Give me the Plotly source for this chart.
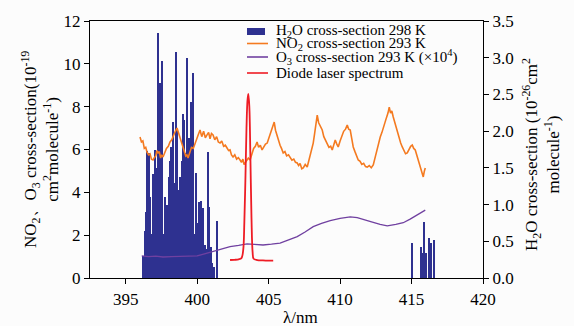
import plotly.graph_objects as go

# ---------------- data ----------------
h2o_wl = [396.33, 396.51, 396.63, 396.89, 397.03, 397.12, 397.26, 397.40, 397.54, 397.70,
          397.87, 398.05, 398.19, 398.29, 398.50, 398.61, 398.80, 398.99, 399.10, 399.29,
          399.45, 399.57, 399.73, 399.89, 399.99, 400.15, 400.27, 400.39, 400.52, 400.57,
          400.76, 400.85, 400.97, 401.41,
          396.20, 396.42, 396.58, 396.72, 396.80, 396.96, 397.19, 397.33, 397.47, 397.62,
          397.78, 397.95, 398.12, 398.36, 398.43, 398.56, 398.68, 398.73, 398.87, 398.93,
          399.05, 399.17, 399.23, 399.36, 399.51, 399.65, 399.80, 400.07, 400.21, 400.33,
          400.45, 400.66, 400.92, 401.05, 401.20,
          415.03, 415.66, 415.77, 415.91, 416.03, 416.20, 416.38, 416.59]
h2o_val = [0.64, 1.73, 1.70, 1.42, 1.74, 0.99, 3.34, 2.66, 2.96, 0.34,
           0.99, 1.38, 1.78, 2.13, 3.08, 1.91, 1.38, 2.24, 2.15, 2.99,
           1.91, 2.40, 2.79, 1.43, 0.75, 1.03, 1.05, 0.95, 0.45, 0.34,
           1.71, 0.97, 0.42, 0.78,
           0.30, 0.90, 0.50, 1.10, 0.60, 1.20, 1.50, 2.20, 1.80, 0.60,
           1.10, 0.80, 1.60, 1.00, 1.30, 2.00, 0.90, 1.20, 0.70, 1.60,
           1.90, 1.20, 1.70, 0.90, 1.50, 1.00, 0.60, 0.50, 0.70, 0.60,
           0.30, 0.40, 0.30, 0.20, 0.15,
           0.47, 0.42, 0.34, 0.76, 0.34, 0.54, 0.48, 0.52]

no2_curve = [
    (396.00, 6.58), (396.10, 6.35), (396.20, 6.40), (396.30, 6.05), (396.40, 6.10),
    (396.49, 5.88), (396.60, 5.75), (396.70, 5.80), (396.80, 5.55), (396.91, 5.51),
    (397.00, 5.62), (397.10, 5.70), (397.18, 5.95), (397.26, 5.84), (397.35, 5.90),
    (397.44, 5.60), (397.52, 5.75), (397.61, 5.65), (397.73, 5.85), (397.85, 6.05),
    (397.98, 6.15), (398.10, 6.35), (398.22, 6.45), (398.35, 6.70), (398.47, 6.85),
    (398.59, 7.00), (398.70, 6.75), (398.80, 6.55), (398.90, 6.40), (399.01, 6.12),
    (399.10, 5.95), (399.20, 5.70), (399.28, 5.75), (399.36, 5.60), (399.48, 5.85),
    (399.60, 6.10), (399.73, 6.05), (399.85, 6.30), (399.96, 6.55), (400.08, 6.70),
    (400.20, 6.91), (400.32, 6.60), (400.45, 6.85), (400.57, 6.55), (400.69, 6.68),
    (400.80, 6.80), (400.90, 6.50), (401.00, 6.75), (401.11, 6.68), (401.23, 6.45),
    (401.36, 6.60), (401.48, 6.35), (401.60, 6.30), (401.72, 6.40), (401.85, 6.15),
    (401.97, 6.20), (402.09, 6.07), (402.20, 5.95), (402.30, 5.98), (402.40, 5.75),
    (402.51, 5.65), (402.63, 5.75), (402.76, 5.55), (402.88, 5.62), (403.00, 5.51),
    (403.10, 5.40), (403.20, 5.55), (403.28, 5.30), (403.35, 5.37), (403.45, 5.45),
    (403.58, 5.60), (403.70, 5.51), (403.82, 5.80), (403.95, 6.05), (404.07, 6.15),
    (404.19, 6.35), (404.30, 6.10), (404.42, 6.20), (404.54, 5.98), (404.66, 6.10),
    (404.78, 6.25), (404.90, 6.30), (405.02, 6.55), (405.15, 6.80), (405.27, 7.00),
    (405.39, 7.28), (405.48, 6.90), (405.58, 6.65), (405.67, 6.44), (405.80, 6.20),
    (405.90, 6.05), (406.02, 5.84), (406.14, 5.90), (406.26, 5.70), (406.39, 5.75),
    (406.51, 5.65), (406.63, 5.50), (406.76, 5.55), (406.88, 5.40), (407.00, 5.37),
    (407.10, 5.25), (407.20, 5.35), (407.32, 5.10), (407.42, 5.14), (407.56, 5.30),
    (407.70, 5.18), (407.84, 5.55), (407.98, 5.90), (408.12, 6.30), (408.22, 6.75),
    (408.32, 7.20), (408.40, 7.61), (408.50, 7.25), (408.62, 7.05), (408.75, 6.91),
    (408.86, 6.60), (408.98, 6.45), (409.10, 6.30), (409.22, 6.10), (409.34, 6.15),
    (409.45, 5.98), (409.55, 6.20), (409.66, 6.44), (409.77, 6.25), (409.87, 6.12),
    (410.00, 6.40), (410.12, 6.65), (410.25, 6.85), (410.38, 6.95), (410.50, 7.14),
    (410.60, 6.95), (410.71, 6.91), (410.82, 6.50), (410.92, 6.12), (411.04, 5.90),
    (411.15, 5.70), (411.27, 5.51), (411.40, 5.45), (411.52, 5.30), (411.65, 5.35),
    (411.78, 5.20), (411.90, 5.18), (412.04, 5.25), (412.18, 5.15), (412.32, 5.28),
    (412.44, 5.60), (412.56, 5.95), (412.69, 6.30), (412.81, 6.58), (412.93, 6.80),
    (413.05, 7.10), (413.16, 7.38), (413.25, 7.50), (413.35, 7.70), (413.44, 7.98),
    (413.53, 7.70), (413.62, 7.80), (413.72, 7.52), (413.81, 7.30), (413.90, 7.05),
    (414.00, 6.91), (414.12, 6.55), (414.24, 6.30), (414.35, 6.12), (414.47, 5.95),
    (414.58, 5.80), (414.70, 5.84), (414.82, 6.00), (414.94, 6.15), (415.05, 6.21),
    (415.15, 6.05), (415.26, 5.98), (415.38, 5.70), (415.50, 5.40), (415.61, 5.18),
    (415.72, 4.90), (415.82, 4.72), (415.90, 5.00), (415.96, 5.14),
]
no2_wl = [p[0] for p in no2_curve]
no2_val = [p[1] for p in no2_curve]

o3_wl = [396.12, 396.60, 397.10, 397.61, 398.20, 398.80, 399.40, 400.00, 400.45, 400.90,
         401.60, 402.30, 402.90, 403.49, 404.00, 404.61, 405.20, 405.80, 406.40, 407.00,
         407.55, 408.12, 408.70, 409.31, 410.00, 410.71, 411.20, 411.62, 412.20, 412.80,
         413.30, 413.90, 414.42, 414.90, 415.40, 415.96]
o3_val = [1.03, 1.00, 1.02, 0.98, 1.00, 1.00, 1.01, 1.03, 1.12, 1.21,
          1.33, 1.46, 1.52, 1.59, 1.57, 1.54, 1.58, 1.63, 1.78, 1.93,
          2.15, 2.40, 2.55, 2.68, 2.78, 2.85, 2.82, 2.75, 2.62, 2.50,
          2.43, 2.50, 2.58, 2.75, 2.94, 3.17]

laser_wl = [402.30, 402.60, 402.90, 403.10, 403.22, 403.30, 403.38, 403.45, 403.52, 403.58,
            403.65, 403.72, 403.80, 403.88, 403.95, 404.20, 404.60, 405.00, 405.32]
laser_val = [0.84, 0.85, 0.87, 0.93, 1.30, 2.60, 4.80, 7.00, 8.30, 8.60,
             8.00, 5.80, 2.80, 1.20, 0.90, 0.84, 0.82, 0.81, 0.81]

x_ticks = [395, 400, 405, 410, 415, 420]

# ---------------- styles ----------------
BLUE = "#2e3190"
ORANGE = "#f47a20"
PURPLE = "#7040a0"
RED = "#ee1c25"
FONT = "Liberation Serif"
BG = "#fcfcfc"

L, R, T, B = 90, 91, 21, 48
W, H = 574, 326
PW, PH = W - L - R, H - T - B


def px(xp):
    return (xp - L) / PW


def py(yp):
    return (H - B - yp) / PH


fig = go.Figure()
fig.add_trace(go.Bar(x=h2o_wl, y=h2o_val, width=0.085, marker_color=BLUE,
                     marker_line_width=0, yaxis="y", showlegend=False))
fig.add_trace(go.Scatter(x=no2_wl, y=no2_val, mode="lines", yaxis="y2",
                         line=dict(color=ORANGE, width=1.6), showlegend=False))
fig.add_trace(go.Scatter(x=o3_wl, y=o3_val, mode="lines", yaxis="y2",
                         line=dict(color=PURPLE, width=1.3), showlegend=False))
fig.add_trace(go.Scatter(x=laser_wl, y=laser_val, mode="lines", yaxis="y2",
                         line=dict(color=RED, width=1.8, shape="spline"), showlegend=False))

axis_common = dict(showgrid=False, zeroline=False, showline=True, linecolor="black",
                   linewidth=1.2, ticks="outside", ticklen=5, tickcolor="black",
                   tickfont=dict(family=FONT, size=17, color="black"))

fig.update_layout(
    width=W, height=H,
    margin=dict(l=L, r=R, t=T, b=B),
    paper_bgcolor=BG, plot_bgcolor=BG,
    bargap=0,
    xaxis=dict(range=[392.5, 420], tickvals=x_ticks, mirror=True, **axis_common),
    yaxis=dict(range=[0, 3.5], side="right", tickvals=[0, 0.5, 1, 1.5, 2, 2.5, 3, 3.5],
               tickformat=".1f", **axis_common),
    yaxis2=dict(range=[0, 12], side="left", overlaying="y", anchor="x",
                tickvals=[0, 2, 4, 6, 8, 10, 12], **axis_common),
    showlegend=False,
)

ann_font = dict(family=FONT, size=17, color="black")
annotations = [
    dict(text="λ/nm", x=px(300), y=py(317), xref="paper", yref="paper",
         showarrow=False, font=ann_font, xanchor="center", yanchor="middle"),
    dict(text="NO<sub>2</sub>、O<sub>3</sub> cross-section(10<sup>-19</sup><br>cm<sup>2</sup>molecule<sup>-1</sup>)",
         x=px(40), y=py(150), xref="paper", yref="paper", textangle=-90,
         showarrow=False, font=ann_font, xanchor="center", yanchor="middle"),
    dict(text="H<sub>2</sub>O cross-section (10<sup>-26</sup>cm<sup>2</sup><br>molecule<sup>-1</sup>)",
         x=px(541), y=py(155), xref="paper", yref="paper", textangle=-90,
         showarrow=False, font=ann_font, xanchor="center", yanchor="middle"),
]

leg_font = dict(family=FONT, size=15, color="black")
legend_rows = [
    ("H<sub>2</sub>O cross-section 298 K", 31.5, "bar", BLUE),
    ("NO<sub>2</sub> cross-section 293 K", 43.5, "line", ORANGE),
    ("O<sub>3</sub> cross-section 293 K (×10<sup>4</sup>)", 57, "line", PURPLE),
    ("Diode laser spectrum", 73, "line", RED),
]
shapes = []
for text, yy, kind, col in legend_rows:
    annotations.append(dict(text=text, x=px(274), y=py(yy), xref="paper", yref="paper",
                            showarrow=False, font=leg_font, xanchor="left", yanchor="middle"))
    if kind == "bar":
        shapes.append(dict(type="rect", xref="paper", yref="paper",
                           x0=px(247), x1=px(265), y0=py(yy + 3.5), y1=py(yy - 3.5),
                           fillcolor=col, line=dict(width=0)))
    else:
        shapes.append(dict(type="line", xref="paper", yref="paper",
                           x0=px(247), x1=px(268), y0=py(yy), y1=py(yy),
                           line=dict(color=col, width=1.6)))

fig.update_layout(annotations=annotations, shapes=shapes)
fig.write_html("out.html")
